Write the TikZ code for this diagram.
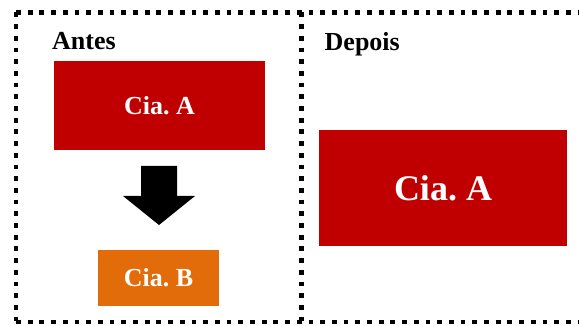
\documentclass[tikz,border=0pt]{standalone}
\usepackage{fontspec}
\setmainfont{Liberation Serif}
\definecolor{ciared}{HTML}{C00000}
\definecolor{ciaorange}{HTML}{E36C0A}
\frenchspacing
\begin{document}
\begin{tikzpicture}[x=1pt,y=-1pt,
  dotline/.style={line width=4.6pt,dash pattern=on 4.8pt off 6.9pt},
  ciabox/.style={inner sep=0pt,text=white,font=\bfseries},
  heading/.style={anchor=base west,inner sep=0pt,font=\fontsize{26}{30}\selectfont\bfseries}]
\useasboundingbox (0,0) rectangle (579,326);
\clip (0,0) rectangle (579,326);
\fill[white] (0,0) rectangle (579,326);
% frame
\draw[dotline] (16,12.5) -- (600,12.5);
\draw[dotline] (16,12.5) -- (16,322);
\draw[dotline] (16,322) -- (600,322);
\draw[dotline] (301.5,12.5) -- (301.5,322);
% headings
\node[heading] (antes) at (52,49.5) {Antes};
\node[heading] (depois) at (324.5,50.5) {Depois};
% boxes
\node[ciabox,fill=ciared,minimum width=211pt,minimum height=89.5pt,font=\fontsize{26}{30}\selectfont\bfseries] (a1) at (159.5,105.7) {\frenchspacing Cia. A};
\node[ciabox,fill=ciaorange,minimum width=121pt,minimum height=56pt,font=\fontsize{26}{30}\selectfont\bfseries] (b) at (158.5,278) {\frenchspacing Cia. B};
\node[ciabox,fill=ciared,minimum width=248pt,minimum height=115.5pt,font=\fontsize{36}{40}\selectfont\bfseries] (a2) at (443,188) {\frenchspacing Cia. A};
% arrow
\fill[black] (141,166) -- (177,166) -- (177,196) -- (195,196) -- (159,225) -- (123,196) -- (141,196) -- cycle;
\end{tikzpicture}
\end{document}
